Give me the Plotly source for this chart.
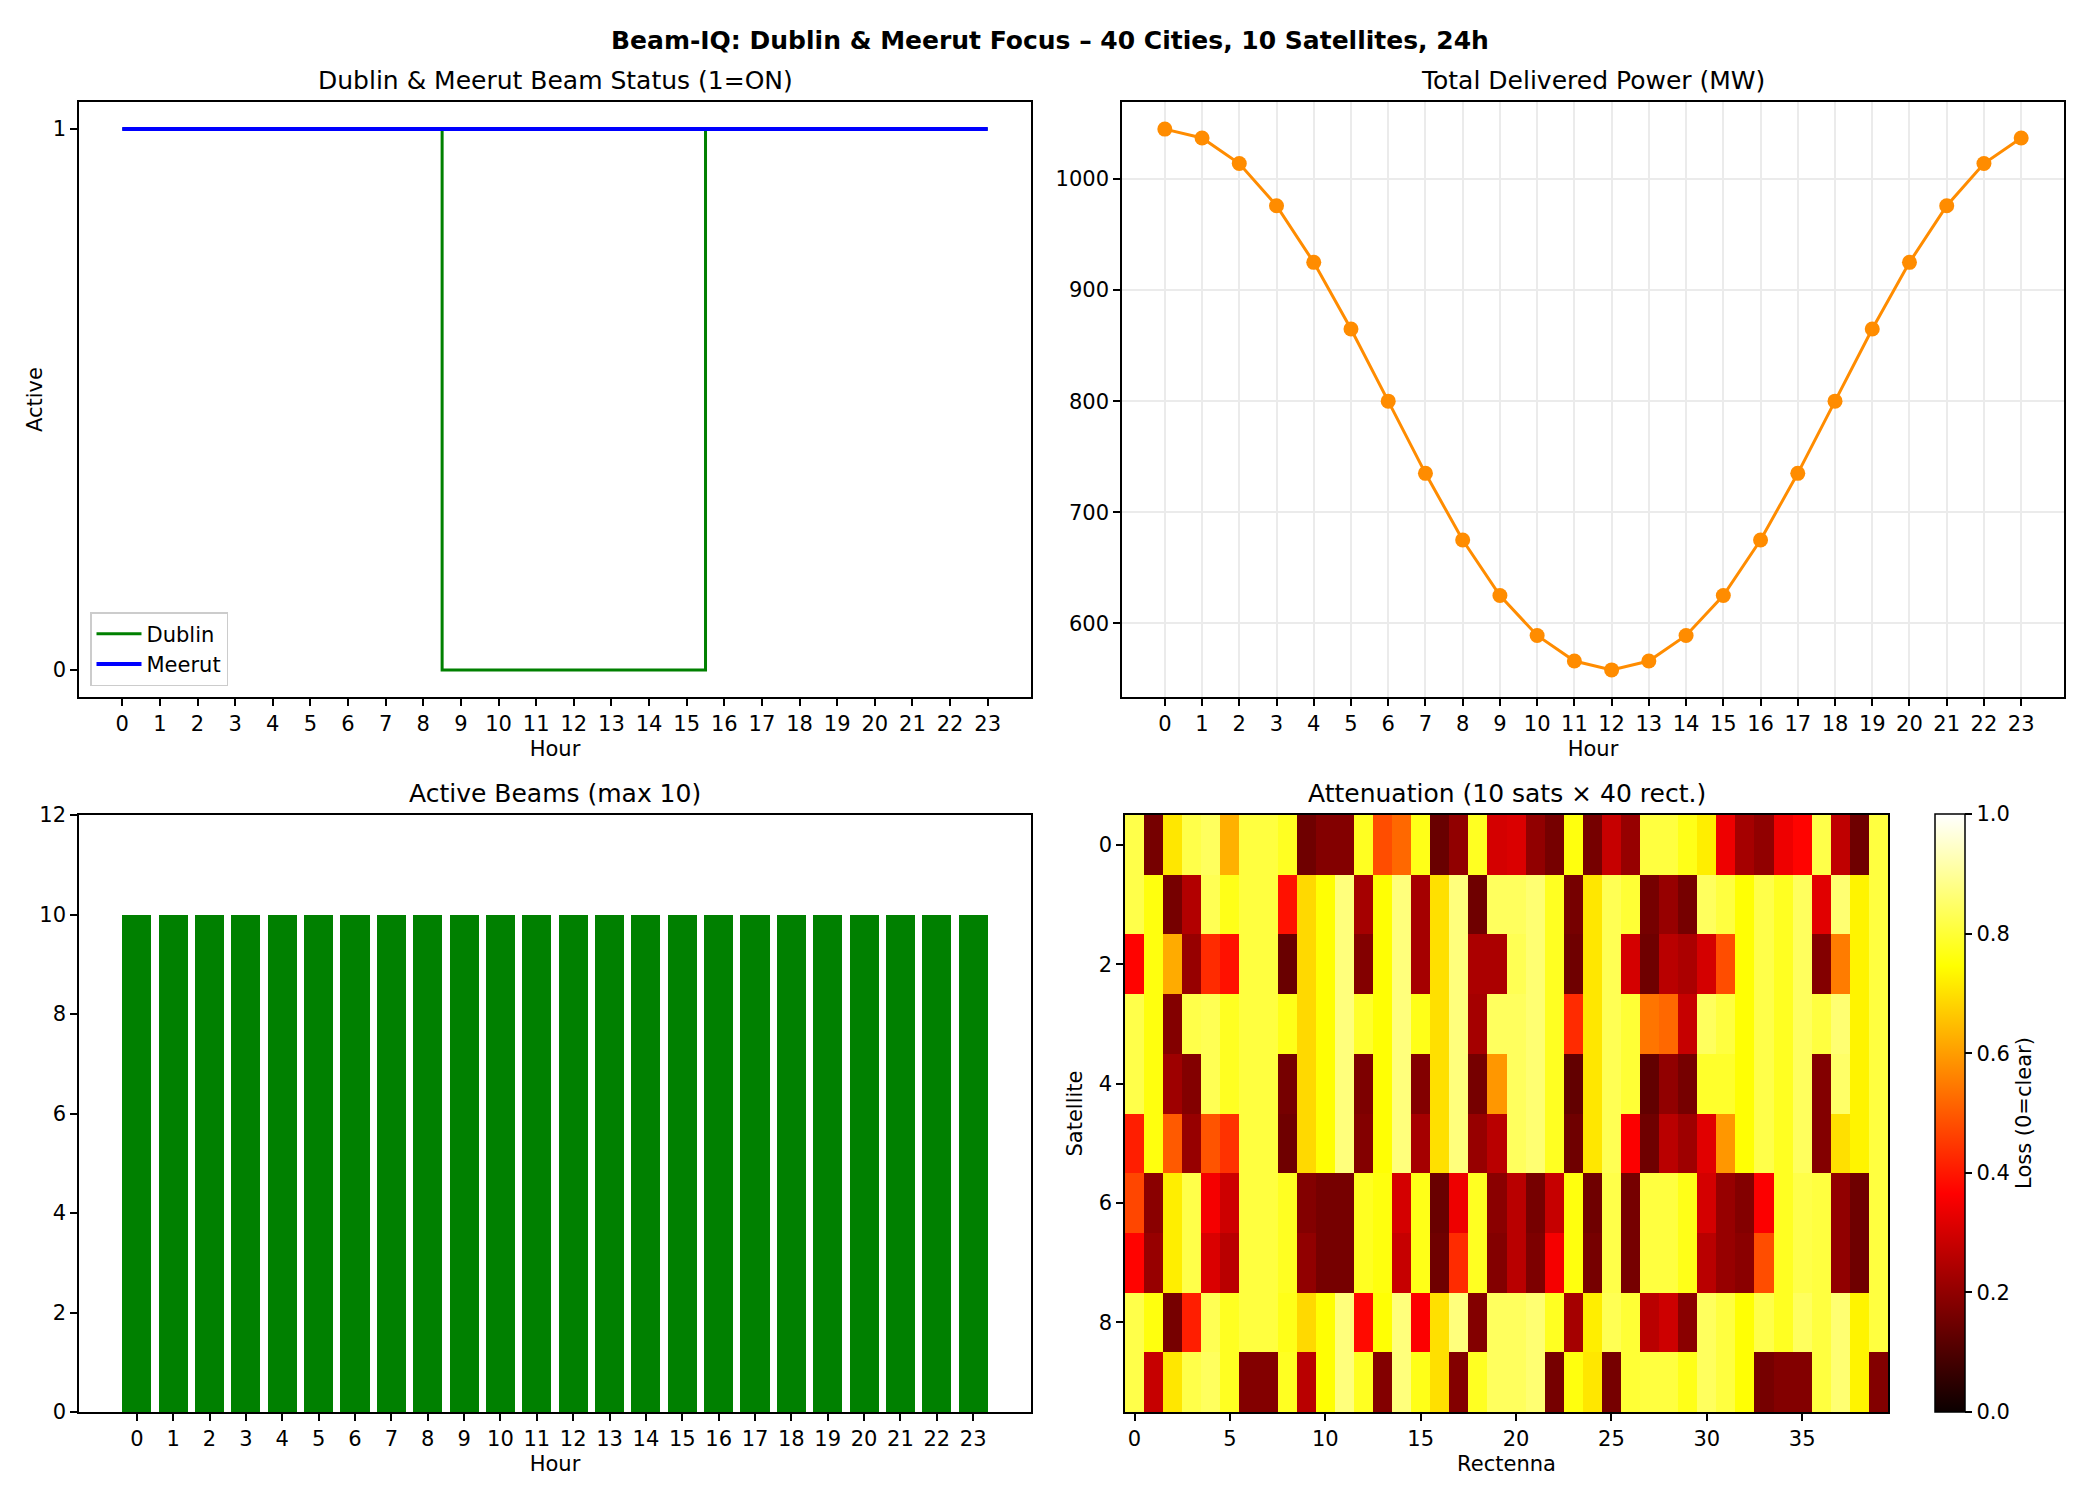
import plotly.graph_objects as go

hours = list(range(24))
dublin = [1, 1, 1, 1, 1, 1, 1, 1, 1, 0, 0, 0, 0, 0, 0, 0, 1, 1, 1, 1, 1, 1, 1, 1]
meerut = [1] * 24
power = [1045, 1037, 1014, 976, 925, 865, 800, 735, 675, 625, 589, 566, 558,
         566, 589, 625, 675, 735, 800, 865, 925, 976, 1014, 1037]
active_beams = [10] * 24

atten = [
    [0.82, 0.16, 0.71, 0.82, 0.84, 0.63, 0.81, 0.81, 0.78, 0.15, 0.18, 0.18, 0.78, 0.48, 0.52, 0.77, 0.14, 0.20, 0.78, 0.30,
     0.31, 0.20, 0.16, 0.76, 0.16, 0.28, 0.21, 0.81, 0.81, 0.77, 0.72, 0.34, 0.23, 0.20, 0.34, 0.37, 0.82, 0.27, 0.15, 0.81],
    [0.82, 0.76, 0.16, 0.25, 0.83, 0.77, 0.81, 0.81, 0.39, 0.69, 0.75, 0.87, 0.23, 0.75, 0.87, 0.23, 0.70, 0.87, 0.15, 0.84,
     0.84, 0.86, 0.78, 0.16, 0.71, 0.83, 0.80, 0.16, 0.21, 0.16, 0.84, 0.81, 0.75, 0.82, 0.78, 0.84, 0.32, 0.86, 0.73, 0.81],
    [0.37, 0.76, 0.62, 0.21, 0.43, 0.39, 0.81, 0.81, 0.14, 0.69, 0.75, 0.87, 0.18, 0.75, 0.87, 0.23, 0.70, 0.87, 0.24, 0.24,
     0.83, 0.86, 0.78, 0.15, 0.71, 0.83, 0.30, 0.15, 0.26, 0.24, 0.30, 0.48, 0.75, 0.82, 0.78, 0.84, 0.18, 0.55, 0.73, 0.81],
    [0.82, 0.76, 0.18, 0.82, 0.83, 0.78, 0.81, 0.81, 0.77, 0.69, 0.75, 0.87, 0.79, 0.75, 0.87, 0.77, 0.70, 0.87, 0.23, 0.84,
     0.84, 0.86, 0.78, 0.43, 0.71, 0.83, 0.80, 0.54, 0.52, 0.28, 0.84, 0.81, 0.75, 0.82, 0.78, 0.84, 0.81, 0.86, 0.73, 0.81],
    [0.82, 0.76, 0.22, 0.18, 0.83, 0.78, 0.81, 0.81, 0.16, 0.69, 0.75, 0.87, 0.17, 0.75, 0.87, 0.18, 0.70, 0.87, 0.16, 0.59,
     0.84, 0.86, 0.78, 0.13, 0.71, 0.83, 0.80, 0.13, 0.20, 0.16, 0.79, 0.79, 0.75, 0.82, 0.78, 0.84, 0.18, 0.85, 0.73, 0.81],
    [0.41, 0.76, 0.50, 0.21, 0.49, 0.44, 0.81, 0.81, 0.15, 0.69, 0.75, 0.87, 0.18, 0.75, 0.87, 0.23, 0.70, 0.87, 0.21, 0.26,
     0.84, 0.86, 0.78, 0.15, 0.71, 0.83, 0.36, 0.15, 0.26, 0.22, 0.32, 0.59, 0.75, 0.82, 0.78, 0.84, 0.18, 0.70, 0.73, 0.81],
    [0.47, 0.19, 0.72, 0.82, 0.35, 0.29, 0.81, 0.81, 0.78, 0.18, 0.16, 0.16, 0.78, 0.76, 0.30, 0.77, 0.14, 0.34, 0.78, 0.19,
     0.26, 0.16, 0.28, 0.76, 0.15, 0.82, 0.16, 0.81, 0.81, 0.77, 0.30, 0.21, 0.18, 0.36, 0.78, 0.82, 0.81, 0.20, 0.15, 0.81],
    [0.37, 0.21, 0.72, 0.82, 0.31, 0.26, 0.81, 0.81, 0.78, 0.20, 0.16, 0.16, 0.78, 0.76, 0.28, 0.77, 0.15, 0.43, 0.78, 0.18,
     0.26, 0.17, 0.35, 0.76, 0.16, 0.82, 0.16, 0.81, 0.81, 0.77, 0.26, 0.21, 0.19, 0.48, 0.78, 0.82, 0.81, 0.20, 0.15, 0.81],
    [0.82, 0.76, 0.16, 0.41, 0.83, 0.78, 0.81, 0.81, 0.77, 0.69, 0.75, 0.87, 0.38, 0.75, 0.87, 0.36, 0.70, 0.87, 0.18, 0.84,
     0.84, 0.86, 0.78, 0.23, 0.72, 0.83, 0.80, 0.26, 0.29, 0.19, 0.84, 0.81, 0.75, 0.82, 0.78, 0.84, 0.81, 0.86, 0.73, 0.81],
    [0.82, 0.28, 0.71, 0.82, 0.84, 0.78, 0.18, 0.18, 0.78, 0.26, 0.75, 0.87, 0.78, 0.18, 0.87, 0.77, 0.70, 0.18, 0.78, 0.84,
     0.84, 0.86, 0.16, 0.76, 0.71, 0.16, 0.80, 0.81, 0.81, 0.77, 0.84, 0.81, 0.75, 0.16, 0.18, 0.18, 0.81, 0.86, 0.73, 0.18],
]
satellites = list(range(10))
rectennas = list(range(40))

W, H = 2100, 1500
FONT = "DejaVu Sans"


def px_x(a, b):
    return [a / W, b / W]


def px_y(top, bottom):
    return [1 - bottom / H, 1 - top / H]


fig = go.Figure()

fig.add_trace(go.Scatter(x=hours, y=dublin, mode="lines", line=dict(color="green", width=3, shape="hvh"),
                         name="Dublin", xaxis="x", yaxis="y"))
fig.add_trace(go.Scatter(x=hours, y=meerut, mode="lines", line=dict(color="blue", width=4, shape="hvh"),
                         name="Meerut", xaxis="x", yaxis="y"))
fig.add_trace(go.Scatter(x=hours, y=power, mode="lines+markers", line=dict(color="darkorange", width=3),
                         marker=dict(color="darkorange", size=15), showlegend=False, xaxis="x2", yaxis="y2"))
fig.add_trace(go.Bar(x=hours, y=active_beams, marker=dict(color="green", line=dict(width=0)), width=0.8,
                     showlegend=False, xaxis="x3", yaxis="y3"))
hot = [[0.0, "rgb(11,0,0)"], [0.365079, "rgb(255,0,0)"], [0.746032, "rgb(255,255,0)"], [1.0, "rgb(255,255,255)"]]
fig.add_trace(go.Heatmap(z=atten, x=rectennas, y=satellites, colorscale=hot, zmin=0, zmax=1, xaxis="x4", yaxis="y4",
                         colorbar=dict(x=1935 / W, xanchor="left", y=1 - 1412 / H, yanchor="bottom",
                                       len=598 / H, lenmode="fraction", thickness=30, xpad=0, ypad=0,
                                       outlinecolor="black", outlinewidth=1.5,
                                       ticks="outside", ticklen=7, tickwidth=1.5, tickcolor="black",
                                       tickvals=[0, 0.2, 0.4, 0.6, 0.8, 1.0], tickformat=".1f",
                                       tickfont=dict(size=21, color="black", family=FONT),
                                       title=dict(text="Loss (0=clear)", side="right",
                                                  font=dict(size=21, color="black", family=FONT)))))

axis_common = dict(showline=True, linecolor="black", linewidth=1.6, mirror=True, ticks="outside",
                   ticklen=7, tickwidth=1.6, tickcolor="black", zeroline=False, showgrid=False,
                   automargin=False,
                   tickfont=dict(size=21, color="black", family=FONT),
                   title_font=dict(size=21, color="black", family=FONT))
grid_common = {**axis_common, "showgrid": True, "gridcolor": "#ebebeb", "gridwidth": 1.5}

L_top, L_bot = 102, 697
B_top, B_bot = 815, 1412

fig.update_layout(
    width=W, height=H, margin=dict(l=0, r=0, t=0, b=0, autoexpand=False),
    paper_bgcolor="white", plot_bgcolor="white",
    font=dict(family=FONT, color="black"),
    showlegend=True,
    legend=dict(x=90 / W, y=1 - 686 / H, xanchor="left", yanchor="bottom", bgcolor="rgba(255,255,255,0.8)",
                bordercolor="#cccccc", borderwidth=1.5, font=dict(size=21, family=FONT, color="black"),
                itemwidth=45),
    xaxis=dict(domain=px_x(79, 1031), anchor="y", range=[-1.15, 24.15], tickvals=hours,
               title=dict(text="Hour", standoff=6), **axis_common),
    yaxis=dict(domain=px_y(L_top, L_bot), anchor="x", range=[-0.05, 1.05], tickvals=[0, 1],
               title=dict(text="Active", standoff=4), **axis_common),
    xaxis2=dict(domain=px_x(1122, 2064), anchor="y2", range=[-1.15, 24.15], tickvals=hours,
                title=dict(text="Hour", standoff=6), **grid_common),
    yaxis2=dict(domain=px_y(L_top, L_bot), anchor="x2", range=[533.6, 1069.4], tickvals=[600, 700, 800, 900, 1000],
                **grid_common),
    xaxis3=dict(domain=px_x(79, 1031), anchor="y3", range=[-1.59, 24.59], tickvals=hours,
                title=dict(text="Hour", standoff=6), **axis_common),
    yaxis3=dict(domain=px_y(B_top, B_bot), anchor="x3", range=[0, 12], tickvals=[0, 2, 4, 6, 8, 10, 12],
                **axis_common),
    xaxis4=dict(domain=px_x(1125, 1888), anchor="y4", range=[-0.5, 39.5], tickvals=[0, 5, 10, 15, 20, 25, 30, 35],
                title=dict(text="Rectenna", standoff=6), **axis_common),
    yaxis4=dict(domain=px_y(B_top, B_bot), anchor="x4", range=[9.5, -0.5], tickvals=[0, 2, 4, 6, 8],
                title=dict(text="Satellite", standoff=10), **axis_common),
    bargap=0,
)

titles = [
    ("Dublin & Meerut Beam Status (1=ON)", (79 + 1031) / 2, L_top),
    ("Total Delivered Power (MW)", (1122 + 2064) / 2, L_top),
    ("Active Beams (max 10)", (79 + 1031) / 2, B_top),
    ("Attenuation (10 sats × 40 rect.)", (1125 + 1888) / 2, B_top),
]
for text, cx, top in titles:
    fig.add_annotation(text=text, x=cx / W, y=1 - top / H, xref="paper", yref="paper",
                       xanchor="center", yanchor="bottom", yshift=5, showarrow=False,
                       font=dict(size=25, family=FONT, color="black"))

fig.add_annotation(text="<b>Beam-IQ: Dublin & Meerut Focus – 40 Cities, 10 Satellites, 24h</b>",
                   x=0.5, y=1 - 41 / H, xref="paper", yref="paper", xanchor="center", yanchor="middle",
                   showarrow=False, font=dict(size=25, family=FONT, color="black"))

fig.write_html("out.html")
